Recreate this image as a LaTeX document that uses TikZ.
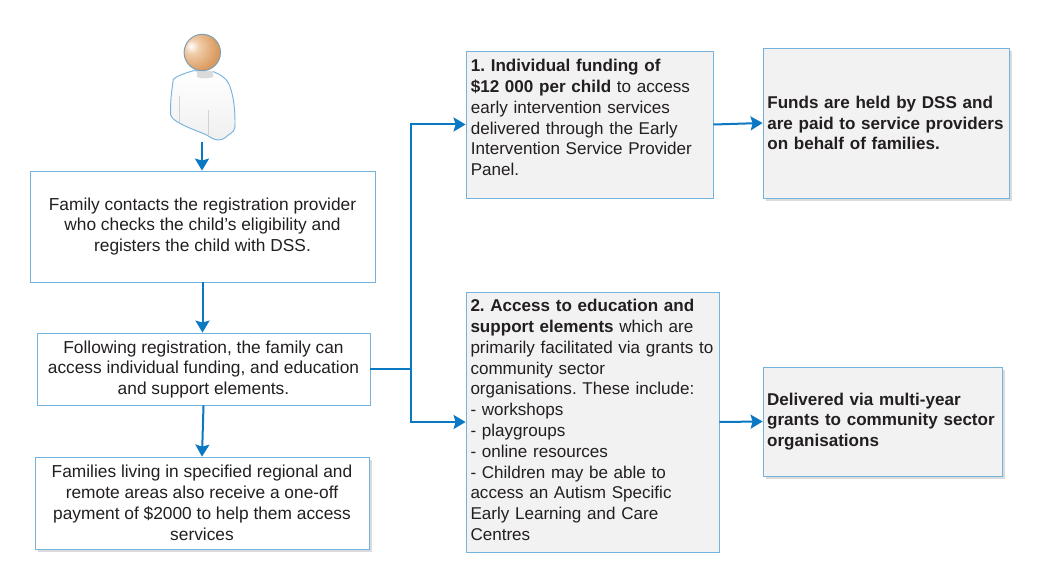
\documentclass[tikz,border=0pt]{standalone}
\usepackage{fontspec}
\setmainfont{Liberation Sans}
\usetikzlibrary{arrows.meta,shadows}
\definecolor{boxline}{HTML}{74B3DE}
\definecolor{arrowblue}{HTML}{0A78C2}
\definecolor{boxgrey}{HTML}{F2F2F2}
\definecolor{inktext}{HTML}{231F20}
\definecolor{headlight}{HTML}{F0CCA8}
\definecolor{headmid}{HTML}{DB9C62}
\definecolor{headedge}{HTML}{C07E42}
\definecolor{headdark}{HTML}{A86C34}
\pgfdeclareradialshading{headball}{\pgfpoint{-16bp}{9bp}}{color(0bp)=(white);color(10bp)=(headlight);color(30bp)=(headmid);color(60bp)=(headedge);color(80bp)=(headdark)}
\tikzset{
    whitebox/.style={draw=boxline,line width=0.6pt,fill=white,text=inktext,align=center,font=\fontsize{13}{15.6}\selectfont,inner sep=0pt},
    greybox/.style={whitebox,fill=boxgrey,align=left,font=\fontsize{12.8}{15.6}\selectfont},
    softshadow/.style={drop shadow={shadow xshift=2pt,shadow yshift=-2pt,fill=black,opacity=0.14}},
    flow/.style={draw=arrowblue,line width=1.5pt,-{Stealth[length=9pt,width=10.5pt,inset=1.5pt]}}
}

\begin{document}
\frenchspacing
\begin{tikzpicture}[x=0.75pt,y=-0.75pt]
        \useasboundingbox (0,0) rectangle (1042,577);
        \fill[white] (0,0) rectangle (1042,577);
        % person
        \draw[boxline,line width=0.7pt,top color=white,bottom color=gray!12] (170.7,115) .. controls (170,100) and (172,90) .. (173.3,79.3) .. controls (178,75) and (186,73) .. (193.3,70.7) -- (213.3,71.7) .. controls (222,75) and (228,80) .. (230,86.7) .. controls (234,98) and (235,110) .. (235,123.3) .. controls (236,130) and (232,133) .. (228.3,135) .. controls (224,139) and (222,140) .. (218.3,140) .. controls (214,140) and (210,137) .. (206.7,135) .. controls (198,131) and (188,128) .. (180,123.3) .. controls (176,121) and (172,119) .. (170.7,115) -- cycle;
        \fill[gray!28] (197,71) -- (213,71) -- (213,77) .. controls (208,79) and (202,79) .. (197,77) -- cycle;
        \draw[gray!35,line width=0.5pt] (179,96) -- (179,122);
        \draw[gray!35,line width=0.5pt] (208,110) -- (208,135);
        \draw[boxline!60!gray,line width=0.7pt,shading=headball] (202.3,52.5) circle (18.2);
        \coordinate (personfoot) at (202,142);
        % left column
        \node[whitebox,minimum width=258.75pt,minimum height=83.25pt] (register) at (202.5,226.5) {Family contacts the registration provider\\who checks the child’s eligibility and\\registers the child with DSS.};
        \node[whitebox,minimum width=249.75pt,minimum height=54pt] (following) at (203.5,369) {Following registration, the family can\\access individual funding, and education\\and support elements.\\[-13.5pt]\mbox{}};
        \node[whitebox,softshadow,minimum width=250.5pt,minimum height=69pt] (remote) at (202,503) {Families living in specified regional and\\remote areas also receive a one-off\\payment of \$2000 to help them access\\services};
        % right columns
        \node[greybox,minimum width=185.25pt,minimum height=110.25pt,text width=178pt] (individual) at (589.5,124.5) {\textbf{1. Individual funding of}\\\textbf{\$12 000 per child} to access\\early intervention services\\delivered through the Early\\Intervention Service Provider\\Panel.\\[-5pt]\mbox{}};
        \node[greybox,softshadow,minimum width=184.5pt,minimum height=112.5pt,text width=178pt] (funds) at (886,123) {\textbf{Funds are held by DSS and}\\\textbf{are paid to service providers}\\\textbf{on behalf of families.}};
        \node[greybox,minimum width=189.75pt,minimum height=195pt,text width=183pt] (education) at (592.5,422) {\textbf{2. Access to education and}\\\textbf{support elements} which are\\primarily facilitated via grants to\\community sector\\organisations. These include:\\- workshops\\- playgroups\\- online resources\\- Children may be able to\\access an Autism Specific\\Early Learning and Care\\Centres\\[-12.6pt]\mbox{}};
        \node[greybox,softshadow,minimum width=179.25pt,minimum height=81.75pt,text width=173pt] (delivered) at (882.5,421.5) {\textbf{Delivered via multi-year}\\\textbf{grants to community sector}\\\textbf{organisations}};
        % arrows
        \coordinate (branch) at (411,369);
        \draw[flow] (personfoot) -- (register.north -| personfoot);
        \draw[flow] (register.south) -- (following.north -| register.south);
        \draw[flow] (following.south) -- (remote.north);
        \draw[flow] (following.east) -- (branch) |- (individual.west);
        \draw[flow] (following.east) -- (branch) |- (education.west);
        \draw[flow] (individual.east) -- (funds.west);
        \draw[flow] (education.east) -- (delivered.west);
    \end{tikzpicture}
\end{document}
